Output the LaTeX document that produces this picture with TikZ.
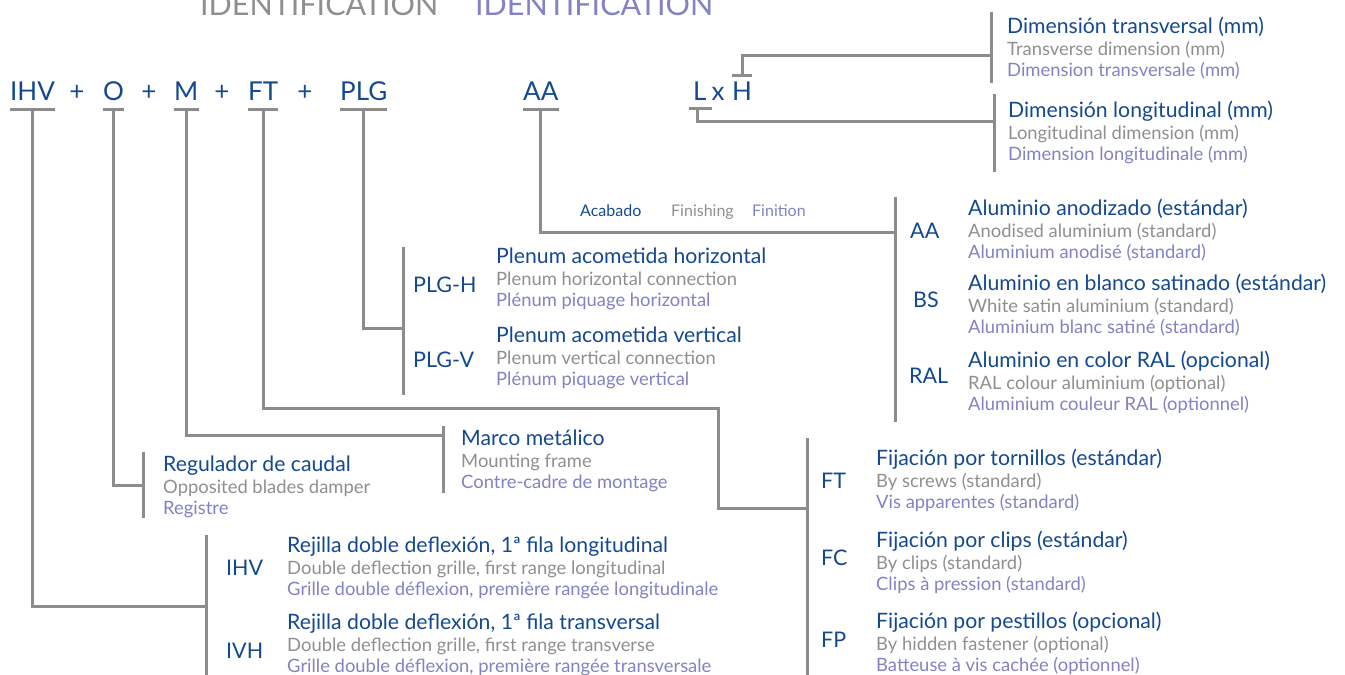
\documentclass[tikz,border=0pt]{standalone}
\usepackage{fontspec}
\setmainfont{Lato}
\definecolor{codeblue}{HTML}{14498F}
\definecolor{engrey}{HTML}{8F8F8F}
\definecolor{frpurple}{HTML}{8282C4}
\definecolor{linegrey}{HTML}{8C8C8C}

% one description: spanish, english, french lines
\newcommand{\desc}[5]{%
  \node[es] (#1) at (#2) {#3};
  \node[en] (#1-en) at ([yshift=-22pt]#1.base west) {#4};
  \node[fr] (#1-fr) at ([yshift=-43pt]#1.base west) {#5};}

\begin{document}
\begin{tikzpicture}[
x=1pt, y=-1pt,
every node/.style={inner sep=0pt, anchor=base west},
code/.style={text=codeblue, font=\fontsize{26}{30}\selectfont},
subcode/.style={text=codeblue, font=\fontsize{21.5}{26}\selectfont},
es/.style={text=codeblue, font=\fontsize{21.2}{24}\selectfont},
en/.style={text=engrey, font=\fontsize{18.4}{20}\selectfont},
fr/.style={text=frpurple, font=\fontsize{18.4}{20}\selectfont},
small/.style={font=\fontsize{16}{18}\selectfont},
link/.style={draw=linegrey, line width=3pt}
]

    \useasboundingbox (0,0) rectangle (1345,675);
    \clip (0,0) rectangle (1345,675);

    % Title
    \node[text=engrey, font=\fontsize{30.5}{32}\selectfont] (idEN) at (200,15) {IDENTIFICATION};
    \node[text=frpurple, font=\fontsize{30.5}{32}\selectfont] (idFR) at (475,15) {IDENTIFICATION};

    % Code
    \node[code] (IHV) at (10,100) {IHV};
    \node[code, anchor=base] (p1) at (77,100) {+};
    \node[code] (O) at (103,100) {O};
    \node[code, anchor=base] (p2) at (149,100) {+};
    \node[code] (M) at (174,100) {M};
    \node[code, anchor=base] (p3) at (222,100) {+};
    \node[code] (FT) at (248,100) {FT};
    \node[code, anchor=base] (p4) at (305,100) {+};
    \node[code] (PLG) at (340,100) {PLG};
    \node[code] (AA) at (523,100) {AA};
    \node[code] (L) at (693,100) {L};
    \node[code, anchor=base] (x) at (718,100) {x};
    \node[code] (H) at (732,100) {H};

    % Bars under the code
    \foreach \c in {IHV,O,M,FT,PLG,AA} {
        \draw[link] ([yshift=-9pt]\c.base west) -- ([yshift=-9pt]\c.base east);
    }
    \draw[link] ([shift={(-4,8)}]L.base west) -- ([shift={(5,8)}]L.base east);
    \draw[link] ([yshift=6pt]H.north west) -- ([yshift=6pt]H.north east);

    % Group bars
    \coordinate (gH) at (991,55);
    \coordinate (gL) at (994,121);
    \coordinate (gAA) at (895,232);
    \coordinate (gPLG) at (403,328);
    \coordinate (gM) at (443,435);
    \coordinate (gO) at (143,485);
    \coordinate (gIHV) at (206,606);
    \coordinate (kFT) at (718,408);
    \coordinate (gFT) at (807,508);

    \draw[link] (991,12) -- (991,83);
    \draw[link] (994,94) -- (994,172);
    \draw[link] (895,197) -- (895,422);
    \draw[link] (403,247) -- (403,395);
    \draw[link] (443,426) -- (443,493);
    \draw[link] (143,452) -- (143,518);
    \draw[link] (206,535) -- (206,675);
    \draw[link] (807,438) -- (807,675);

    % Connectors
    \draw[link] ([yshift=6pt]H.north) |- (gH);
    \draw[link] ([shift={(4,8)}]L.base west) |- (gL);
    \draw[link] ([yshift=-9pt]AA.base) |- (gAA);
    \draw[link] ([yshift=-9pt]PLG.base) |- (gPLG);
    \draw[link] ([yshift=-9pt]FT.base) |- (kFT) |- (gFT);
    \draw[link] ([yshift=-9pt]M.base) |- (gM);
    \draw[link] ([yshift=-9pt]O.base) |- (gO);
    \draw[link] ([yshift=-9pt]IHV.base) |- (gIHV);

    % Finish label
    \node[small, text=codeblue] (finES) at (580,216) {Acabado};
    \node[small, text=engrey] (finEN) at (671,216) {Finishing};
    \node[small, text=frpurple] (finFR) at (752,216) {Finition};

    % Option codes
    \node[subcode] (sAA) at (910,238) {AA};
    \node[subcode] (sBS) at (913,307) {BS};
    \node[subcode] (sRAL) at (909,383) {RAL};
    \node[subcode] (sPLGH) at (413,292) {PLG-H};
    \node[subcode] (sPLGV) at (413,367) {PLG-V};
    \node[subcode] (sIHV) at (226,575) {IHV};
    \node[subcode] (sIVH) at (226,658) {IVH};
    \node[subcode] (sFT) at (821,488) {FT};
    \node[subcode] (sFC) at (821,565) {FC};
    \node[subcode] (sFP) at (821,647) {FP};

    % Descriptions
    \desc{dimT}{1007,33}{Dimensión transversal (mm)}{Transverse dimension (mm)}{Dimension transversale (mm)}
    \desc{dimL}{1008,117}{Dimensión longitudinal (mm)}{Longitudinal dimension (mm)}{Dimension longitudinale (mm)}
    \desc{dAA}{968,215}{Aluminio anodizado (estándar)}{Anodised aluminium (standard)}{Aluminium anodisé (standard)}
    \desc{dBS}{968,290}{Aluminio en blanco satinado (estándar)}{White satin aluminium (standard)}{Aluminium blanc satiné (standard)}
    \desc{dRAL}{968,367}{Aluminio en color RAL (opcional)}{RAL colour aluminium (optional)}{Aluminium couleur RAL (optionnel)}
    \desc{dPLGH}{496,263}{Plenum acometida horizontal}{Plenum horizontal connection}{Plénum piquage horizontal}
    \desc{dPLGV}{496,342}{Plenum acometida vertical}{Plenum vertical connection}{Plénum piquage vertical}
    \desc{dM}{461,445}{Marco metálico}{Mounting frame}{Contre-cadre de montage}
    \desc{dO}{163,471}{Regulador de caudal}{Opposited blades damper}{Registre}
    \desc{dIHV}{287,552}{Rejilla doble deflexión, 1ª fila longitudinal}{Double deflection grille, first range longitudinal}{Grille double déflexion, première rangée longitudinale}
    \desc{dIVH}{287,629}{Rejilla doble deflexión, 1ª fila transversal}{Double deflection grille, first range transverse}{Grille double déflexion, première rangée transversale}
    \desc{dFT}{876,465}{Fijación por tornillos (estándar)}{By screws (standard)}{Vis apparentes (standard)}
    \desc{dFC}{876,547}{Fijación por clips (estándar)}{By clips (standard)}{Clips à pression (standard)}
    \desc{dFP}{876,628}{Fijación por pestillos (opcional)}{By hidden fastener (optional)}{Batteuse à vis cachée (optionnel)}

\end{tikzpicture}
\end{document}
